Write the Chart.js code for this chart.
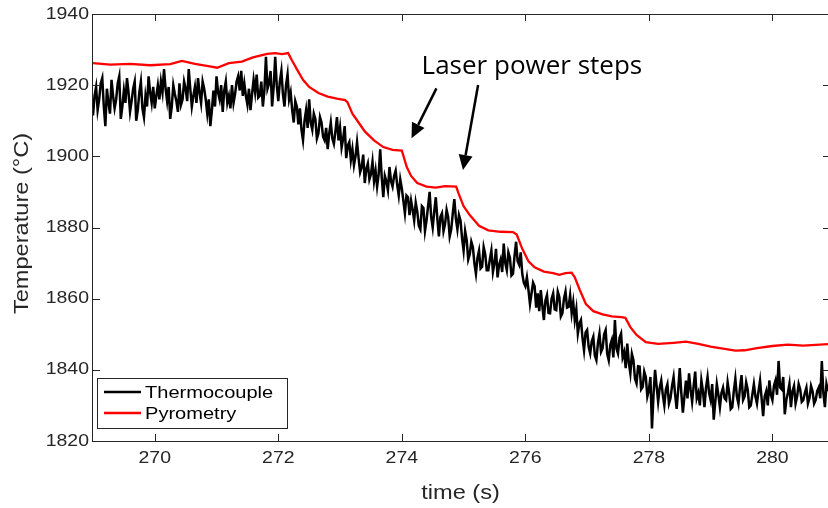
<!DOCTYPE html>
<html>
<head>
<meta charset="utf-8">
<script src="https://cdn.jsdelivr.net/npm/chart.js@4.4.1/dist/chart.umd.min.js"></script>
<style>
  html, body { margin: 0; padding: 0; background: #fff; }
  #wrap { width: 828px; height: 508px; }
</style>
</head>
<body>
<div id="wrap"><canvas id="tempChart" width="828" height="508"></canvas></div>
<script>
// ---- data ----
const tcTime = [
  269.000, 269.025, 269.050, 269.075, 269.100, 269.125, 269.150, 269.175, 269.200, 269.225,
  269.250, 269.275, 269.300, 269.325, 269.350, 269.375, 269.400, 269.425, 269.450, 269.475,
  269.500, 269.525, 269.550, 269.575, 269.600, 269.625, 269.650, 269.675, 269.700, 269.725,
  269.750, 269.775, 269.800, 269.825, 269.850, 269.875, 269.900, 269.925, 269.950, 269.975,
  270.000, 270.025, 270.050, 270.075, 270.100, 270.125, 270.150, 270.175, 270.200, 270.225,
  270.250, 270.275, 270.300, 270.325, 270.350, 270.375, 270.400, 270.425, 270.450, 270.475,
  270.500, 270.525, 270.550, 270.575, 270.600, 270.625, 270.650, 270.675, 270.700, 270.725,
  270.750, 270.775, 270.800, 270.825, 270.850, 270.875, 270.900, 270.925, 270.950, 270.975,
  271.000, 271.025, 271.050, 271.075, 271.100, 271.125, 271.150, 271.175, 271.200, 271.225,
  271.250, 271.275, 271.300, 271.325, 271.350, 271.375, 271.400, 271.425, 271.450, 271.475,
  271.500, 271.525, 271.550, 271.575, 271.600, 271.625, 271.650, 271.675, 271.700, 271.725,
  271.750, 271.775, 271.800, 271.825, 271.850, 271.875, 271.900, 271.925, 271.950, 271.975,
  272.000, 272.025, 272.050, 272.075, 272.100, 272.125, 272.150, 272.175, 272.200, 272.225,
  272.250, 272.275, 272.300, 272.325, 272.350, 272.375, 272.400, 272.425, 272.450, 272.475,
  272.500, 272.525, 272.550, 272.575, 272.600, 272.625, 272.650, 272.675, 272.700, 272.725,
  272.750, 272.775, 272.800, 272.825, 272.850, 272.875, 272.900, 272.925, 272.950, 272.975,
  273.000, 273.025, 273.050, 273.075, 273.100, 273.125, 273.150, 273.175, 273.200, 273.225,
  273.250, 273.275, 273.300, 273.325, 273.350, 273.375, 273.400, 273.425, 273.450, 273.475,
  273.500, 273.525, 273.550, 273.575, 273.600, 273.625, 273.650, 273.675, 273.700, 273.725,
  273.750, 273.775, 273.800, 273.825, 273.850, 273.875, 273.900, 273.925, 273.950, 273.975,
  274.000, 274.025, 274.050, 274.075, 274.100, 274.125, 274.150, 274.175, 274.200, 274.225,
  274.250, 274.275, 274.300, 274.325, 274.350, 274.375, 274.400, 274.425, 274.450, 274.475,
  274.500, 274.525, 274.550, 274.575, 274.600, 274.625, 274.650, 274.675, 274.700, 274.725,
  274.750, 274.775, 274.800, 274.825, 274.850, 274.875, 274.900, 274.925, 274.950, 274.975,
  275.000, 275.025, 275.050, 275.075, 275.100, 275.125, 275.150, 275.175, 275.200, 275.225,
  275.250, 275.275, 275.300, 275.325, 275.350, 275.375, 275.400, 275.425, 275.450, 275.475,
  275.500, 275.525, 275.550, 275.575, 275.600, 275.625, 275.650, 275.675, 275.700, 275.725,
  275.750, 275.775, 275.800, 275.825, 275.850, 275.875, 275.900, 275.925, 275.950, 275.975,
  276.000, 276.025, 276.050, 276.075, 276.100, 276.125, 276.150, 276.175, 276.200, 276.225,
  276.250, 276.275, 276.300, 276.325, 276.350, 276.375, 276.400, 276.425, 276.450, 276.475,
  276.500, 276.525, 276.550, 276.575, 276.600, 276.625, 276.650, 276.675, 276.700, 276.725,
  276.750, 276.775, 276.800, 276.825, 276.850, 276.875, 276.900, 276.925, 276.950, 276.975,
  277.000, 277.025, 277.050, 277.075, 277.100, 277.125, 277.150, 277.175, 277.200, 277.225,
  277.250, 277.275, 277.300, 277.325, 277.350, 277.375, 277.400, 277.425, 277.450, 277.475,
  277.500, 277.525, 277.550, 277.575, 277.600, 277.625, 277.650, 277.675, 277.700, 277.725,
  277.750, 277.775, 277.800, 277.825, 277.850, 277.875, 277.900, 277.925, 277.950, 277.975,
  278.000, 278.025, 278.050, 278.075, 278.100, 278.125, 278.150, 278.175, 278.200, 278.225,
  278.250, 278.275, 278.300, 278.325, 278.350, 278.375, 278.400, 278.425, 278.450, 278.475,
  278.500, 278.525, 278.550, 278.575, 278.600, 278.625, 278.650, 278.675, 278.700, 278.725,
  278.750, 278.775, 278.800, 278.825, 278.850, 278.875, 278.900, 278.925, 278.950, 278.975,
  279.000, 279.025, 279.050, 279.075, 279.100, 279.125, 279.150, 279.175, 279.200, 279.225,
  279.250, 279.275, 279.300, 279.325, 279.350, 279.375, 279.400, 279.425, 279.450, 279.475,
  279.500, 279.525, 279.550, 279.575, 279.600, 279.625, 279.650, 279.675, 279.700, 279.725,
  279.750, 279.775, 279.800, 279.825, 279.850, 279.875, 279.900, 279.925, 279.950, 279.975,
  280.000, 280.025, 280.050, 280.075, 280.100, 280.125, 280.150, 280.175, 280.200, 280.225,
  280.250, 280.275, 280.300, 280.325, 280.350, 280.375, 280.400, 280.425, 280.450, 280.475,
  280.500, 280.525, 280.550, 280.575, 280.600, 280.625, 280.650, 280.675, 280.700, 280.725,
  280.750, 280.775, 280.800, 280.825, 280.850, 280.875, 280.900
];

const tcValues = [
  1911.5, 1917, 1919.5, 1913, 1916, 1920.5, 1922, 1914, 1908.5, 1919,
  1915, 1912, 1921.5, 1917, 1913.5, 1916, 1920.5, 1922.5, 1910.5, 1914,
  1918.5, 1915, 1922, 1918, 1912.5, 1915.5, 1919, 1921, 1910, 1913,
  1918, 1921, 1913.5, 1911, 1917, 1914, 1922.5, 1918, 1915, 1919.5,
  1913.5, 1917, 1920, 1916, 1921, 1918, 1924.5, 1919, 1915.5, 1919.5,
  1910.5, 1914, 1920, 1917.5, 1915.5, 1912.5, 1920.5, 1914.5, 1916, 1921,
  1919, 1915.5, 1924.5, 1919, 1914, 1917, 1919.5, 1915, 1922, 1918,
  1915, 1921, 1919, 1916, 1912, 1916, 1908.5, 1913, 1918.5, 1914,
  1922.5, 1918, 1916, 1920, 1912.5, 1918.5, 1921, 1915, 1917, 1913.5,
  1920, 1915, 1917.5, 1921, 1922.5, 1918.5, 1924, 1917, 1920.5, 1917,
  1914.5, 1919, 1913, 1917.5, 1921.5, 1918, 1923, 1916.5, 1917, 1921,
  1914, 1918.5, 1928, 1919, 1920.5, 1924, 1914, 1919.5, 1928, 1920,
  1915.5, 1921, 1924, 1917.5, 1914, 1920, 1923, 1916, 1918, 1913,
  1909.5, 1915.5, 1914, 1909, 1913.5, 1907.5, 1904.5, 1910, 1913, 1908,
  1916, 1909.5, 1907.5, 1912, 1910.5, 1905, 1906.5, 1911, 1909.5, 1905.5,
  1904.5, 1908, 1902, 1906.5, 1909.5, 1905, 1903.5, 1907, 1911, 1904.5,
  1908, 1902.5, 1905, 1908.5, 1899.5, 1903, 1904, 1899, 1902, 1897.5,
  1900, 1904, 1899.5, 1895.5, 1897, 1900.5, 1892.5, 1896.5, 1898, 1893.5,
  1895, 1898.5, 1893, 1896, 1891.5, 1895, 1902, 1894, 1888.5, 1894.5,
  1893, 1890.5, 1897, 1893, 1891.5, 1894.5, 1896, 1892, 1889, 1893.5,
  1891, 1887.5, 1884, 1889, 1888.5, 1883.5, 1887.5, 1885, 1882, 1887,
  1884.5, 1880.5, 1879.5, 1886, 1885.5, 1879, 1882, 1886, 1890, 1883,
  1880, 1884.5, 1888.5, 1882.5, 1877.5, 1883, 1884, 1879, 1881, 1885,
  1883, 1877.5, 1879.5, 1884, 1888, 1882.5, 1879.5, 1883.5, 1882, 1877,
  1873.5, 1879, 1876.5, 1871, 1872.5, 1876, 1874.5, 1870, 1867, 1871.5,
  1873.5, 1868.5, 1869, 1874.5, 1872.5, 1868, 1868, 1871, 1873.5, 1867.5,
  1870, 1874, 1866, 1869.5, 1871, 1867.5, 1875.5, 1870, 1868, 1873,
  1871.5, 1866.5, 1867, 1872, 1876, 1870.5, 1869.5, 1873, 1867, 1864.5,
  1863.5, 1866, 1862.5, 1858.5, 1861.5, 1864.5, 1863.5, 1857.5, 1861.5, 1856.5,
  1862.4, 1858, 1854, 1859.5, 1861, 1856, 1855.9, 1860, 1861.5, 1857,
  1856.8, 1862, 1860.5, 1855, 1855.9, 1860, 1862, 1857.5, 1857.7, 1861,
  1855.9, 1859, 1854, 1857, 1850.2, 1853, 1854, 1849, 1845.5, 1850.5,
  1851.2, 1846.5, 1844.6, 1848, 1849.3, 1844, 1842.7, 1847.5, 1850.2, 1845,
  1846, 1850, 1851.2, 1844.5, 1842.7, 1847, 1848.4, 1843.5, 1854, 1846,
  1844.6, 1849, 1850.2, 1843.5, 1845, 1840.5, 1847.4, 1842, 1839, 1844.5,
  1842.7, 1837.5, 1836.2, 1841, 1840.9, 1834.5, 1835.2, 1839.5, 1838, 1832.5,
  1834.3, 1838, 1823.5, 1833, 1840, 1835.5, 1831, 1835, 1837, 1833,
  1830, 1834.5, 1836, 1830.5, 1832, 1835.5, 1838, 1833, 1829, 1834.5,
  1840.5, 1833.5, 1828, 1832.5, 1837, 1832, 1839, 1834.5, 1831, 1835.5,
  1839.5, 1832, 1833.5, 1830, 1837, 1834, 1829.5, 1835, 1838, 1833.5,
  1831.5, 1836, 1826, 1831, 1836, 1833, 1829.5, 1833.5, 1835, 1832,
  1831.5, 1836.5, 1833.5, 1829, 1829.5, 1834, 1837.5, 1832.5, 1830.5, 1835,
  1838.5, 1831.5, 1832.5, 1836.5, 1834.5, 1829.5, 1830, 1833, 1836, 1832.5,
  1830.5, 1834, 1837, 1832, 1827, 1832.5, 1834, 1830, 1837, 1833,
  1831.5, 1835.5, 1837, 1833, 1842.5, 1835, 1834.5, 1838, 1827.5, 1831.5,
  1833.5, 1836, 1829.5, 1834, 1835.5, 1830.5, 1832.5, 1836, 1834.5, 1831,
  1831.5, 1833.5, 1835, 1830.5, 1832, 1835.5, 1834, 1830.5, 1831.5, 1834,
  1835, 1832, 1842.5, 1833.5, 1829.5, 1836, 1834
];

const pyTime = [
  269.00, 269.28, 269.60, 269.92, 270.25, 270.44, 270.65, 270.89, 271.01, 271.20,
  271.41, 271.59, 271.82, 271.95, 272.06, 272.16, 272.22, 272.30, 272.40, 272.50,
  272.65, 272.80, 272.95, 273.08, 273.12, 273.20, 273.30, 273.40, 273.55, 273.70,
  273.85, 274.00, 274.02, 274.08, 274.15, 274.25, 274.40, 274.55, 274.70, 274.88,
  274.92, 275.00, 275.10, 275.25, 275.40, 275.60, 275.80, 275.86, 275.95, 276.05,
  276.15, 276.30, 276.45, 276.55, 276.65, 276.75, 276.80, 276.88, 276.98, 277.10,
  277.25, 277.40, 277.55, 277.62, 277.70, 277.80, 277.95, 278.15, 278.40, 278.60,
  278.80, 279.00, 279.25, 279.40, 279.55, 279.75, 280.00, 280.25, 280.50, 280.70,
  280.90
];

const pyValues = [
  1926.2, 1925.8, 1926.0, 1925.6, 1925.9, 1926.8, 1926.0, 1925.3, 1924.9, 1926.2,
  1926.6, 1927.8, 1928.8, 1929.0, 1928.7, 1929.0, 1927.0, 1924.5, 1921.5, 1919.5,
  1917.8, 1916.8, 1916.2, 1915.8, 1915.2, 1912.0, 1909.5, 1907.0, 1904.5, 1902.6,
  1901.8, 1901.6, 1900.5, 1897.0, 1894.5, 1892.5, 1891.5, 1891.2, 1891.6, 1891.5,
  1889.5, 1886.0, 1883.5, 1880.5, 1879.2, 1878.8, 1878.7, 1878.0, 1874.0, 1870.5,
  1868.8, 1867.6, 1867.2, 1866.7, 1867.2, 1867.3, 1866.0, 1862.5, 1858.5, 1856.5,
  1855.6, 1855.0, 1854.8, 1854.6, 1852.0, 1849.8, 1847.8, 1847.3, 1847.6, 1847.9,
  1847.3, 1846.5, 1845.8, 1845.4, 1845.5, 1846.1, 1846.7, 1847.1, 1846.8, 1847.0,
  1847.2
];

const xTickValues = [270, 272, 274, 276, 278, 280];
const yTickValues = [1820, 1840, 1860, 1880, 1900, 1920, 1940];

// annotation: text and two arrows, placed in data units
const noteText = 'Laser power steps';
const notePos = { x: 274.32, y: 1923.05 };
const noteArrows = [
  { from: [274.56, 1919.1], to: [274.157, 1905.07] },
  { from: [275.235, 1920.04], to: [274.99, 1896.15] }
];

const axisColor = '#262626';
const sansFamily = '"Liberation Sans", Arial, sans-serif';
const textStretch = 1.18;   // the source figure's text is drawn a bit wide

function toPoints(xs, ys) {
  return xs.map((x, i) => ({ x: x, y: ys[i] }));
}

// text that is a bit wider than the plain font
function wideText(ctx, text, x, y, align, rotate) {
  ctx.save();
  ctx.translate(x, y);
  if (rotate) ctx.rotate(-Math.PI / 2);
  ctx.scale(textStretch, 1);
  ctx.textAlign = align;
  ctx.fillText(text, 0, 0);
  ctx.restore();
}

// box, inward ticks, labels, legend and annotation (MATLAB look)
const matlabFrame = {
  id: 'matlabFrame',
  afterDatasetsDraw(chart) {
    const { ctx, chartArea: a, scales: { x, y } } = chart;
    ctx.save();

    // box
    ctx.strokeStyle = axisColor;
    ctx.lineWidth = 1;
    ctx.strokeRect(Math.round(a.left) - 0.5, Math.round(a.top) + 0.5,
      a.right - a.left + 2, Math.round(a.bottom) - Math.round(a.top));

    // inward ticks
    const tl = 7;
    ctx.beginPath();
    xTickValues.forEach(v => {
      const px = Math.round(x.getPixelForValue(v)) + 0.5;
      ctx.moveTo(px, a.bottom); ctx.lineTo(px, a.bottom - tl);
      ctx.moveTo(px, a.top); ctx.lineTo(px, a.top + tl);
    });
    yTickValues.forEach(v => {
      const py = Math.round(y.getPixelForValue(v)) + 0.5;
      ctx.moveTo(a.left, py); ctx.lineTo(a.left + tl, py);
      ctx.moveTo(a.right + 2, py); ctx.lineTo(a.right + 2 - tl, py);
    });
    ctx.stroke();

    // tick labels
    ctx.fillStyle = axisColor;
    ctx.textBaseline = 'middle';
    ctx.font = '16.5px ' + sansFamily;
    xTickValues.forEach(v => wideText(ctx, String(v), x.getPixelForValue(v), a.bottom + 17, 'center'));
    yTickValues.forEach(v => wideText(ctx, String(v), a.left - 4, y.getPixelForValue(v), 'right'));

    // axis titles
    ctx.font = '20px ' + sansFamily;
    wideText(ctx, 'time (s)', (a.left + a.right) / 2, a.bottom + 52, 'center');
    wideText(ctx, 'Temperature (°C)', 22, (a.top + a.bottom) / 2 - 4, 'center', true);

    // legend
    const lx = a.left + 4, lw = 190, lh = 50;
    const ly = a.bottom - 13 - lh;
    ctx.fillStyle = '#fff';
    ctx.fillRect(lx, ly, lw, lh);
    ctx.strokeStyle = axisColor;
    ctx.lineWidth = 1;
    ctx.strokeRect(lx + 0.5, ly + 0.5, lw, lh);
    ctx.font = '17px ' + sansFamily;
    chart.data.datasets.forEach((ds, i) => {
      const ry = ly + 14 + i * 21;
      ctx.strokeStyle = ds.borderColor;
      ctx.lineWidth = 2.4;
      ctx.beginPath();
      ctx.moveTo(lx + 7, ry); ctx.lineTo(lx + 44, ry);
      ctx.stroke();
      ctx.fillStyle = '#000';
      wideText(ctx, ds.label, lx + 48, ry + 1, 'left');
    });

    // annotation
    ctx.fillStyle = '#000';
    ctx.font = '26px "Open Sans", "Noto Sans", sans-serif';
    ctx.textBaseline = 'alphabetic';
    ctx.textAlign = 'left';
    ctx.fillText(noteText, x.getPixelForValue(notePos.x), y.getPixelForValue(notePos.y));

    ctx.strokeStyle = '#000';
    ctx.lineWidth = 2.5;
    noteArrows.forEach(ar => {
      const x0 = x.getPixelForValue(ar.from[0]), y0 = y.getPixelForValue(ar.from[1]);
      const x1 = x.getPixelForValue(ar.to[0]), y1 = y.getPixelForValue(ar.to[1]);
      const ang = Math.atan2(y1 - y0, x1 - x0);
      const hl = 15, hw = 7;
      const bx = x1 - hl * Math.cos(ang), by = y1 - hl * Math.sin(ang);
      ctx.beginPath();
      ctx.moveTo(x0, y0); ctx.lineTo(bx, by);
      ctx.stroke();
      ctx.beginPath();
      ctx.moveTo(x1, y1);
      ctx.lineTo(bx + hw * Math.sin(ang), by - hw * Math.cos(ang));
      ctx.lineTo(bx - hw * Math.sin(ang), by + hw * Math.cos(ang));
      ctx.closePath();
      ctx.fill();
    });

    ctx.restore();
  }
};

const config = {
  type: 'line',
  data: {
    datasets: [
      {
        label: 'Thermocouple',
        data: toPoints(tcTime, tcValues),
        borderColor: '#000000',
        borderWidth: 2.5,
        pointRadius: 0,
        tension: 0,
        fill: false
      },
      {
        label: 'Pyrometry',
        data: toPoints(pyTime, pyValues),
        borderColor: '#ff0000',
        borderWidth: 2.3,
        pointRadius: 0,
        tension: 0,
        fill: false
      }
    ]
  },
  options: {
    responsive: false,
    animation: false,
    layout: { padding: { top: 14, right: 0, left: 0, bottom: 0 } },
    plugins: {
      legend: { display: false },
      tooltip: { enabled: false }
    },
    scales: {
      x: {
        type: 'linear',
        min: 269,
        max: 280.9,
        afterBuildTicks: s => { s.ticks = xTickValues.map(v => ({ value: v })); },
        afterFit: s => { s.height = 67; },
        grid: { display: false, drawTicks: false },
        border: { display: false },
        ticks: { display: false }
      },
      y: {
        type: 'linear',
        min: 1820,
        max: 1940,
        afterBuildTicks: s => { s.ticks = yTickValues.map(v => ({ value: v })); },
        afterFit: s => { s.width = 93; },
        grid: { display: false, drawTicks: false },
        border: { display: false },
        ticks: { display: false }
      }
    }
  },
  plugins: [matlabFrame]
};

window.addEventListener('DOMContentLoaded', () => {
  const ctx = document.getElementById('tempChart').getContext('2d');
  new Chart(ctx, config);
});
</script>
</body>
</html>
